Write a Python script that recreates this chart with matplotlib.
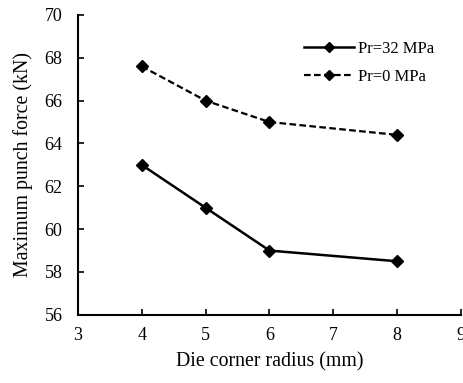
import matplotlib
matplotlib.use("Agg")
import matplotlib.pyplot as plt

radius = [4, 5, 6, 8]
pr32 = [63.0, 61.0, 59.0, 58.5]
pr0 = [67.6, 66.0, 65.0, 64.4]
xticks = [3, 4, 5, 6, 7, 8, 9]
yticks = [56, 58, 60, 62, 64, 66, 68, 70]

plt.rcParams['font.family'] = ['Liberation Serif', 'DejaVu Serif']

fig = plt.figure(figsize=(4.63, 3.83), dpi=100)
ax = fig.add_axes([0.168, 0.178, 0.828, 0.783])

ax.plot(radius, pr32, color='black', linestyle='-', linewidth=1.8, marker='D', markersize=6, label='Pr=32 MPa')
ax.plot(radius, pr0, color='black', linestyle=(0, (3, 1.5)), linewidth=1.6, marker='D', markersize=6, label='Pr=0 MPa')

ax.set_xlim(3, 9)
ax.set_ylim(56, 70)
ax.set_xticks(xticks)
ax.set_yticks(yticks)
ax.tick_params(direction='in', length=4, width=1.2, labelsize=13)
ax.tick_params(axis='y', pad=11)
ax.tick_params(axis='x', pad=9)
for s in ['top', 'right']:
    ax.spines[s].set_visible(False)
for s in ['left', 'bottom']:
    ax.spines[s].set_linewidth(1.5)
ax.set_xlabel('Die corner radius (mm)', fontsize=14.3, labelpad=6)
ax.set_ylabel('Maximum punch force (kN)', fontsize=14.3, labelpad=8)
leg = fig.legend(*ax.get_legend_handles_labels(), loc='upper left',
                 bbox_to_anchor=(304 / 463, 1 - 41 / 383), frameon=False, fontsize=12,
                 handlelength=3, labelspacing=0.7, handletextpad=0.25,
                 borderpad=0, borderaxespad=0, markerscale=0.85)
fig.savefig('out.png', dpi=100)
